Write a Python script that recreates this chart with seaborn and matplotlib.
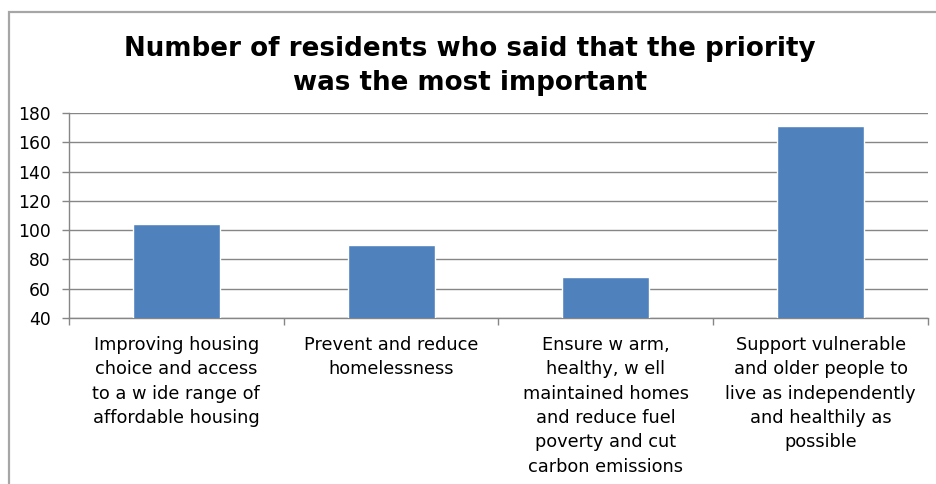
import matplotlib
matplotlib.use("Agg")
import matplotlib.pyplot as plt
import seaborn as sns
import pandas as pd
from matplotlib.patches import Rectangle

categories = [
    "Improving housing\nchoice and access\nto a w ide range of\naffordable housing",
    "Prevent and reduce\nhomelessness",
    "Ensure w arm,\nhealthy, w ell\nmaintained homes\nand reduce fuel\npoverty and cut\ncarbon emissions",
    "Support vulnerable\nand older people to\nlive as independently\nand healthily as\npossible",
]
values = [104, 90, 68, 171]
y_ticks = [40, 60, 80, 100, 120, 140, 160, 180]
title = "Number of residents who said that the priority\nwas the most important"

sns.set_theme(style="white")
plt.rcParams["font.family"] = ["DejaVu Sans"]

W, H = 936, 484
fig = plt.figure(figsize=(W / 100, H / 100), dpi=100)
fig.patch.set_facecolor("white")

# chart frame (extends beyond image bottom/right)
fig.patches.append(Rectangle((9 / W, -0.1), 1.2, (H - 12) / H + 0.1,
                             transform=fig.transFigure, fill=False,
                             edgecolor="#a6a6a6", linewidth=1.6))

ax = fig.add_axes([69 / W, (H - 318) / H, (928 - 69) / W, (318 - 113) / H])
df = pd.DataFrame({"cat": categories, "val": values})
sns.barplot(data=df, x="cat", y="val", color="#4f81bd", width=0.405,
            saturation=1, ax=ax, zorder=3)

ax.set_xlim(-0.5, 3.5)
ax.set_ylim(40, 180)
ax.set_yticks(y_ticks)
ax.set_yticklabels([str(v) for v in y_ticks], fontsize=12.3, color="black")
ax.set_xlabel("")
ax.set_ylabel("")
ax.grid(axis="y", color="#868686", linewidth=1.0, zorder=0)
ax.set_axisbelow(True)

for s in ["top", "right"]:
    ax.spines[s].set_visible(False)
for s in ["left", "bottom"]:
    ax.spines[s].set_color("#868686")
    ax.spines[s].set_linewidth(1.0)

ax.tick_params(axis="y", which="major", left=True, length=5, width=1,
               color="#868686", pad=8)
ax.set_xticks(range(len(categories)))
ax.set_xticklabels(categories, fontsize=12.8, color="black",
                   linespacing=1.45, va="top", ha="center")
ax.set_xticks([-0.5, 0.5, 1.5, 2.5, 3.5], minor=True)
ax.tick_params(axis="x", which="major", length=0, pad=13)
ax.tick_params(axis="x", which="minor", bottom=True, length=5, width=1,
               color="#868686")

fig.text(0.502, (H - 66) / H, title, ha="center", va="center",
         fontsize=18.8, fontweight="bold", linespacing=1.4, color="black")

fig.savefig("out.png", dpi=100)
